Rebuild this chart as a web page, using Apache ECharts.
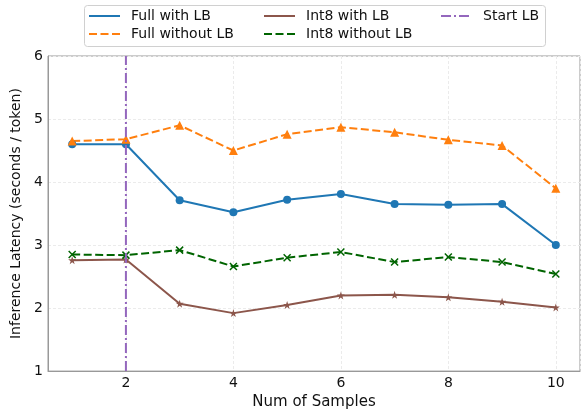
<!DOCTYPE html>
<html><head><meta charset="utf-8">
<script src="https://cdn.jsdelivr.net/npm/echarts@6/dist/echarts.min.js"></script>
<style>html,body{margin:0;padding:0;background:#fff}#c{width:582px;height:415px}</style>
</head><body><div id="c"></div>
<script>
const samples = [1,2,3,4,5,6,7,8,9,10];
const fullWithLB    = [4.60,4.60,3.71,3.52,3.72,3.81,3.65,3.64,3.65,3.00];
const fullWithoutLB = [4.65,4.68,4.90,4.50,4.76,4.87,4.79,4.67,4.58,3.90];
const int8WithLB    = [2.76,2.77,2.07,1.92,2.05,2.20,2.21,2.17,2.10,2.01];
const int8WithoutLB = [2.85,2.84,2.92,2.66,2.80,2.89,2.73,2.81,2.73,2.54];
const startLB = 2;
const yTicks = [1,2,3,4,5,6];

const pair = arr => samples.map((s,i)=>[s,arr[i]]);
const font = 'DejaVu Sans';
const starPath = 'path://M50,0L61.8,35.3L99,35.3L69,57.3L80.4,92.7L50,70.8L19.6,92.7L31,57.3L1,35.3L38.2,35.3Z';
const xPath = 'path://M0,0L10,10M10,0L0,10';

const legendBase = {
  orient:'vertical', top:9, padding:0, itemGap:4, itemWidth:31, itemHeight:14,
  itemStyle:{opacity:0},
  formatter: n => '{a|'+n+'}',
  textStyle:{fontFamily:font,fontSize:14,color:'#111',
    rich:{a:{fontFamily:font,fontSize:14,color:'#111',padding:[0,0,0,6]}}}
};

const chart = echarts.init(document.getElementById('c'), null, {renderer:'canvas'});
chart.setOption({
  animation:false,
  textStyle:{fontFamily:font},
  graphic:[{type:'rect',left:84,top:5,z:-1,
    shape:{width:461,height:41,r:3},
    style:{fill:'#fff',stroke:'#d0d0d0',lineWidth:1}}],
  grid:{left:48,right:2,top:56,bottom:40,show:true,borderColor:'#999',borderWidth:1,containLabel:false},
  legend:[
    Object.assign({left:88,data:['Full with LB','Full without LB']},legendBase),
    Object.assign({left:263,data:['Int8 with LB','Int8 without LB']},legendBase),
    Object.assign({left:440,data:['Start LB']},legendBase)
  ],
  xAxis:{
    type:'value', min:0.55, max:10.45, splitNumber:5,
    name:'Num of Samples', nameLocation:'middle', nameGap:21,
    nameTextStyle:{fontFamily:font,fontSize:15,color:'#111'},
    axisLine:{show:true,lineStyle:{color:'#999'}},
    axisTick:{show:false},
    axisLabel:{fontFamily:font,fontSize:14,color:'#111',margin:5,showMinLabel:false,showMaxLabel:false,
      formatter:v=>(Math.abs(v-Math.round(v))<1e-6?String(Math.round(v)):'')},
    splitLine:{show:true,lineStyle:{color:'#ebebeb',type:[3,2],width:1}}
  },
  yAxis:{
    type:'value', min:yTicks[0], max:yTicks[yTicks.length-1], interval:1,
    name:'Inference Latency (seconds / token)', nameLocation:'middle', nameGap:22,
    nameTextStyle:{fontFamily:font,fontSize:14,color:'#111'},
    axisLine:{show:true,lineStyle:{color:'#999'}},
    axisTick:{show:false},
    axisLabel:{fontFamily:font,fontSize:14,color:'#111',margin:5},
    splitLine:{show:true,lineStyle:{color:'#ebebeb',type:[3,2],width:1}}
  },
  series:[
    {name:'Full with LB',type:'line',data:pair(fullWithLB),color:'#1f77b4',
      symbol:'circle',symbolSize:8,lineStyle:{width:2,color:'#1f77b4'},itemStyle:{color:'#1f77b4'},z:3},
    {name:'Full without LB',type:'line',data:pair(fullWithoutLB),color:'#ff7f0e',
      symbol:'triangle',symbolSize:9,lineStyle:{width:2,type:[8,3.5],color:'#ff7f0e'},itemStyle:{color:'#ff7f0e'},z:3},
    {name:'Int8 with LB',type:'line',data:pair(int8WithLB),color:'#8c564b',
      symbol:starPath,symbolSize:8,lineStyle:{width:2,color:'#8c564b'},itemStyle:{color:'#8c564b'},z:3},
    {name:'Int8 without LB',type:'line',data:pair(int8WithoutLB),color:'#006400',
      symbol:xPath,symbolSize:7,lineStyle:{width:2,type:[8,3.5],color:'#006400'},
      itemStyle:{color:'#006400',borderColor:'#006400',borderWidth:1.5},z:3},
    {name:'Start LB',type:'line',data:[[startLB,yTicks[0]],[startLB,yTicks[yTicks.length-1]]],color:'#9467bd',
      symbol:'none',lineStyle:{width:2,type:[10,3,2,3],color:'#9467bd'},z:4}
  ]
});
</script></body></html>
